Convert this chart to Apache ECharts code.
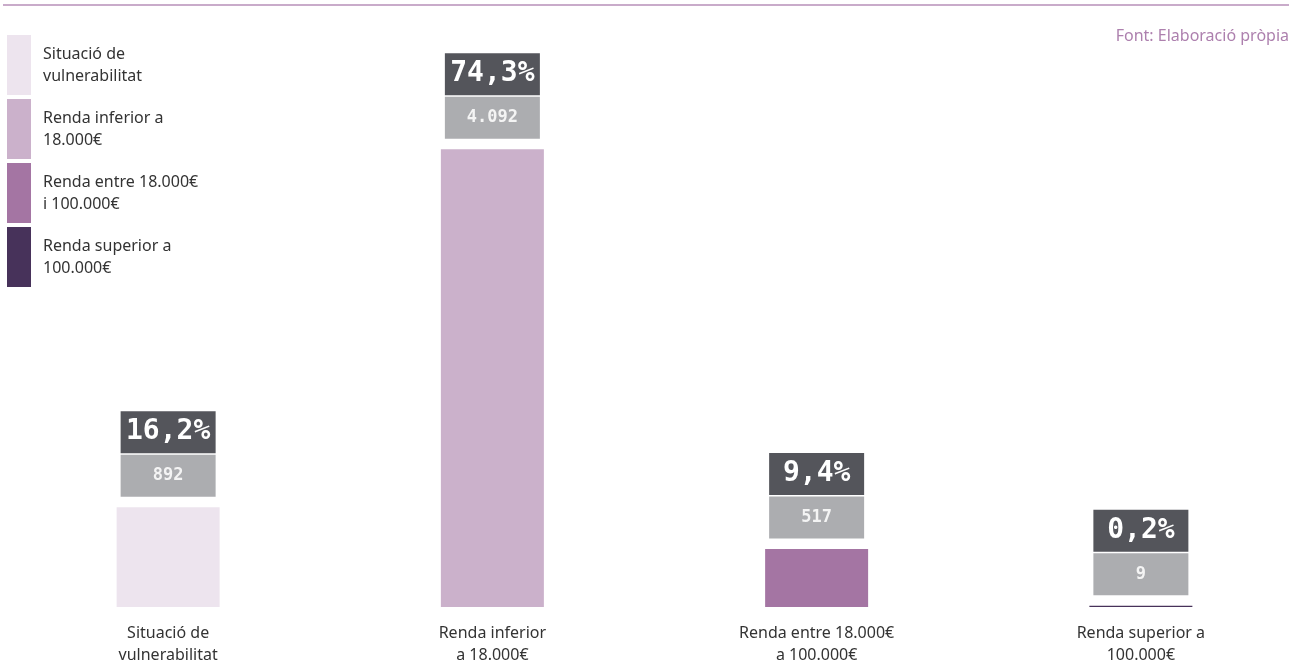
<!DOCTYPE html>
<html>
<head>
<meta charset="utf-8">
<script src="https://cdn.jsdelivr.net/npm/echarts@6/dist/echarts.min.js"></script>
<style>
  * { margin: 0; padding: 0; }
  html, body { width: 1291px; height: 664px; background: #fff; }
  #chart { width: 1291px; height: 664px; }
</style>
</head>
<body>
<div id="chart"></div>
<script>
// categories (x axis) and legend names
const categories = ['Situació de\nvulnerabilitat', 'Renda inferior\na 18.000€', 'Renda entre 18.000€\na 100.000€', 'Renda superior a\n100.000€']
const legendNames = ['Situació de\nvulnerabilitat', 'Renda inferior a\n18.000€', 'Renda entre 18.000€\ni 100.000€', 'Renda superior a\n100.000€']
// percent of total, and count of people
const percents = [16.2, 74.3, 9.4, 0.2]
const counts = [892, 4092, 517, 9]
const colors = ['#ede4ee', '#cbb1cb', '#a475a3', '#47325a']

const txtFont = '"Noto Sans", sans-serif'
const monoFont = '"DejaVu Sans Mono", monospace'

const fmtPct = v => v.toFixed(1).replace('.', ',') + '%'
const fmtCount = v => v.toLocaleString('de-DE')

// one series per category so each gets its own legend entry
const series = legendNames.map((name, i) => ({
  name,
  type: 'bar',
  stack: 'all',
  barWidth: 103,
  itemStyle: { color: colors[i] },
  label: {
    show: true,
    position: 'top',
    distance: 10,
    formatter: () => '{p|' + fmtPct(percents[i]) + '}\n{c|' + fmtCount(counts[i]) + '}',
    rich: {
      p: {
        fontFamily: monoFont, fontWeight: 'bold', fontSize: 28, color: '#ffffff',
        backgroundColor: '#54555b', width: 95, height: 42, lineHeight: 44, align: 'center'
      },
      c: {
        fontFamily: monoFont, fontWeight: 'bold', fontSize: 17, color: '#f4f4f4',
        backgroundColor: '#acadb0', width: 95, height: 42, lineHeight: 43, align: 'center'
      }
    }
  },
  data: categories.map((c, j) => (j === i ? percents[i] : '-'))
}))

const chart = echarts.init(document.getElementById('chart'))
chart.setOption({
  animation: false,
  grid: { left: 6, top: 114, width: 1297, height: 493, outerBoundsMode: 'none', containLabel: false },
  legend: {
    orient: 'vertical',
    left: 2,
    top: 30,
    icon: 'rect',
    itemWidth: 24,
    itemHeight: 60,
    itemGap: 4,
    selectedMode: false,
    textStyle: {
      fontFamily: txtFont, fontSize: 16, lineHeight: 22, color: '#333333',
      padding: [0, 0, 0, 7]
    },
    data: legendNames
  },
  xAxis: {
    type: 'category',
    data: categories,
    axisLine: { show: false },
    axisTick: { show: false },
    axisLabel: {
      interval: 0, margin: 15, fontFamily: txtFont, fontSize: 16, lineHeight: 22,
      color: '#333333'
    }
  },
  yAxis: { type: 'value', min: 0, max: 80, show: false, splitLine: { show: false } },
  series,
  graphic: [
    {
      type: 'line',
      shape: { x1: 3, y1: 5, x2: 1289, y2: 5 },
      style: { stroke: '#c9abca', lineWidth: 2 }
    },
    {
      type: 'text',
      right: 2,
      top: 28,
      style: {
        text: 'Font: Elaboració pròpia',
        fontFamily: txtFont, fontSize: 16, fill: '#ad80ae'
      }
    }
  ]
})
</script>
</body>
</html>
